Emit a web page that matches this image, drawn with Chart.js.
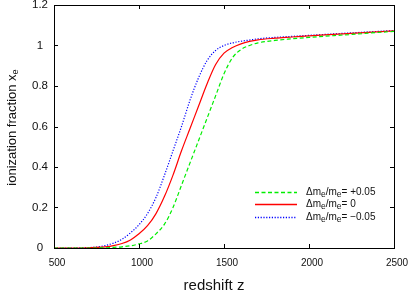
<!DOCTYPE html>
<html>
<head>
<meta charset="utf-8">
<script src="https://cdn.jsdelivr.net/npm/chart.js@4.4.1/dist/chart.umd.min.js"></script>
<style>
html,body{margin:0;padding:0;background:#fff;}
canvas{display:block;}
</style>
</head>
<body>
<canvas id="c" width="409" height="291"></canvas>
<script>
// ---- data ----
const redshift = [500,600,700,750,800,850,900,950,1000,1050,1100,1150,1200,1250,1300,1350,1400,1450,1500,1550,1600,1650,1700,1800,1900,2000,2200,2500];
const xePlus  = [0,0,0,0,0.001,0.003,0.006,0.011,0.02,0.035,0.07,0.118,0.2,0.31,0.42,0.53,0.64,0.75,0.86,0.94,0.98,1.0,1.013,1.025,1.033,1.04,1.052,1.07];
const xeZero  = [0,0,0.001,0.003,0.006,0.012,0.022,0.04,0.07,0.11,0.17,0.255,0.36,0.48,0.59,0.70,0.81,0.905,0.962,0.99,1.008,1.02,1.028,1.036,1.042,1.048,1.057,1.072];
const xeMinus = [0,0,0.002,0.005,0.012,0.024,0.043,0.075,0.115,0.17,0.25,0.36,0.48,0.6,0.73,0.84,0.925,0.975,1.0,1.013,1.021,1.027,1.033,1.04,1.045,1.05,1.06,1.074];
const seriesLabels = ["\u0394m_e/m_e= +0.05", "\u0394m_e/m_e= 0", "\u0394m_e/m_e= \u22120.05"];
const seriesColors = ["#00ee00", "#ff0000", "#0000ff"];
const seriesDashes = [[4,2.5], [], [1.2,1.6]];
const xTicks = [500,1000,1500,2000,2500];
const yTicks = [0,0.2,0.4,0.6,0.8,1,1.2];
const xTitle = "redshift z";
const yTitle = "ionization fraction x_e";

const toXY = ys => redshift.map((z,i)=>({x:z,y:ys[i]}));

// draw text with "_e" as subscript
function subText(ctx, str, x, y, size, align, subScale) {
  const parts = [];
  let i = 0, buf = "";
  while (i < str.length) {
    if (str[i] === "_" ) { if (buf) parts.push({t:buf,s:false}); buf=""; parts.push({t:str[i+1],s:true}); i+=2; }
    else { buf += str[i]; i++; }
  }
  if (buf) parts.push({t:buf,s:false});
  const fMain = size + "px 'Liberation Sans', Arial, sans-serif";
  const fSub = (size*(subScale||0.7)).toFixed(1) + "px 'Liberation Sans', Arial, sans-serif";
  let total = 0;
  parts.forEach(p => { ctx.font = p.s ? fSub : fMain; p.w = ctx.measureText(p.t).width; total += p.w; });
  let cx = align === "center" ? x - total/2 : x;
  ctx.textAlign = "left";
  parts.forEach(p => {
    ctx.font = p.s ? fSub : fMain;
    ctx.fillText(p.t, cx, p.s ? y + size*0.2 : y);
    cx += p.w;
  });
}

const framePlugin = {
  id: "frame",
  afterDraw(chart) {
    const {ctx, chartArea: a, scales: {x, y}} = chart;
    ctx.save();
    ctx.strokeStyle = "#000";
    ctx.lineWidth = 1;
    ctx.setLineDash([]);
    ctx.strokeRect(Math.round(a.left)+0.5, Math.round(a.top)+0.5, Math.round(a.right-a.left), Math.round(a.bottom-a.top));
    ctx.beginPath();
    const tl = 4;
    xTicks.forEach(v => {
      const px = Math.round(x.getPixelForValue(v)) + 0.5;
      ctx.moveTo(px, a.bottom); ctx.lineTo(px, a.bottom - tl);
      ctx.moveTo(px, a.top); ctx.lineTo(px, a.top + tl);
    });
    yTicks.forEach(v => {
      const py = Math.round(y.getPixelForValue(v)) + 0.5;
      ctx.moveTo(a.left, py); ctx.lineTo(a.left + tl, py);
      ctx.moveTo(a.right, py); ctx.lineTo(a.right - tl, py);
    });
    ctx.stroke();

    // axis titles
    ctx.fillStyle = "#111";
    ctx.textBaseline = "alphabetic";
    subText(ctx, xTitle, 214, 290, 15, "center", 0.7);
    ctx.save();
    ctx.translate(15.5, (a.top + a.bottom)/2 + 1);
    ctx.rotate(-Math.PI/2);
    subText(ctx, yTitle, 0, 0, 13, "center", 0.7);
    ctx.restore();

    // legend
    const rows = [192, 204, 217];
    seriesLabels.forEach((lab, i) => {
      const yy = rows[i] + 0.5;
      ctx.save();
      ctx.strokeStyle = seriesColors[i];
      ctx.lineWidth = 1.3;
      ctx.setLineDash(seriesDashes[i]);
      ctx.beginPath(); ctx.moveTo(255, yy); ctx.lineTo(297, yy); ctx.stroke();
      ctx.restore();
      ctx.fillStyle = "#111";
      ctx.textBaseline = "middle";
      subText(ctx, lab, 306, yy, 10, "left", 0.85);
    });
    ctx.restore();
  }
};

new Chart(document.getElementById("c"), {
  type: "line",
  data: {
    datasets: seriesLabels.map((lab, i) => ({
      label: lab,
      data: toXY([xePlus, xeZero, xeMinus][i]),
      borderColor: seriesColors[i],
      borderWidth: 1.2,
      borderDash: seriesDashes[i]
    }))
  },
  options: {
    responsive: false,
    animation: false,
    devicePixelRatio: 1,
    elements: { point: { radius: 0 }, line: { cubicInterpolationMode: "monotone" } },
    layout: { padding: { top: 5, right: 15, left: 0, bottom: 0 } },
    plugins: { legend: { display: false }, tooltip: { enabled: false } },
    scales: {
      x: {
        type: "linear", min: 500, max: 2500,
        afterBuildTicks: s => { s.ticks = xTicks.map(v => ({value: v})); },
        afterFit: s => { s.height = 43; s.paddingLeft = 0; s.paddingRight = 0; },
        grid: { display: false, drawTicks: false },
        border: { display: false },
        ticks: { color: "#111", padding: 9, labelOffset: 3, maxRotation: 0,
                 font: { family: "'Liberation Sans', Arial, sans-serif", size: 10 },
                 callback: v => String(v) }
      },
      y: {
        type: "linear", min: 0, max: 1.2,
        afterBuildTicks: s => { s.ticks = yTicks.map(v => ({value: v})); },
        afterFit: s => { s.width = 54; s.paddingTop = 0; s.paddingBottom = 0; },
        grid: { display: false, drawTicks: false },
        border: { display: false },
        ticks: { color: "#111", padding: 6, crossAlign: "center",
                 font: { family: "'Liberation Sans', Arial, sans-serif", size: 11.5 },
                 callback: v => String(Math.round(v*10)/10) }
      }
    }
  },
  plugins: [framePlugin]
});
</script>
</body>
</html>
